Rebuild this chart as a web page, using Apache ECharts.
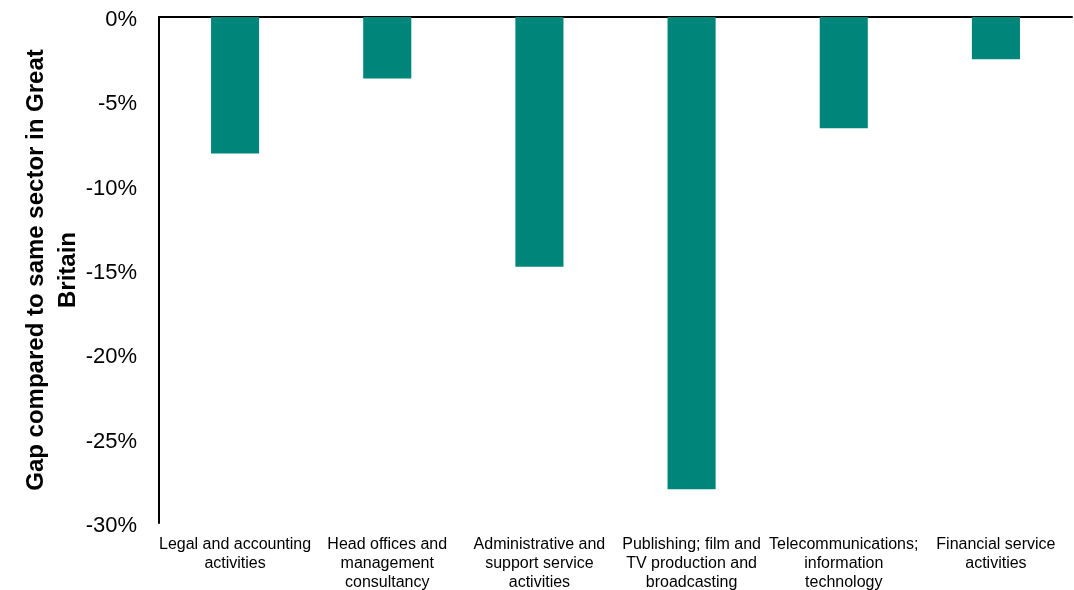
<!DOCTYPE html>
<html>
<head>
<meta charset="utf-8">
<script src="https://cdn.jsdelivr.net/npm/echarts@6/dist/echarts.min.js"></script>
<style>
  html, body { margin: 0; padding: 0; background: #fff; }
  #chart { width: 1074px; height: 590px; }
</style>
</head>
<body>
<div id="chart"></div>
<script>
// sectors along the bottom
const sectors = [
    'Legal and accounting\nactivities',
    'Head offices and\nmanagement\nconsultancy',
    'Administrative and\nsupport service\nactivities',
    'Publishing; film and\nTV production and\nbroadcasting',
    'Telecommunications;\ninformation\ntechnology',
    'Financial service\nactivities'
];
// gap vs same sector in GB, percent
const gapValues = [-8.1, -3.65, -14.8, -28.0, -6.6, -2.5];

const chart = echarts.init(document.getElementById('chart'));

const option = {
    animation: false,
    grid: { left: 159, right: 2, top: 17, bottom: 67, outerBoundsMode: 'none' },
    xAxis: [
        {
            type: 'category',
            data: sectors,
            position: 'bottom',
            axisLine: { show: false, onZero: false },
            axisTick: { show: false },
            axisLabel: {
                interval: 0,
                margin: 12,
                color: '#000',
                fontFamily: 'Liberation Sans, Arial, sans-serif',
                fontSize: 16,
                lineHeight: 19
            }
        },
        {
            // line along 0% at the top
            type: 'category',
            data: sectors,
            position: 'top',
            axisLine: { show: true, lineStyle: { color: '#000', width: 2 } },
            axisTick: { show: false },
            axisLabel: { show: false }
        }
    ],
    yAxis: {
        type: 'value',
        min: -30,
        max: 0,
        interval: 5,
        name: 'Gap compared to same sector in Great\nBritain',
        nameLocation: 'middle',
        nameRotate: 90,
        nameGap: 75,
        nameMoveOverlap: false,
        nameTextStyle: {
            color: '#000',
            fontFamily: 'Liberation Sans, Arial, sans-serif',
            fontSize: 24,
            fontWeight: 'bold',
            lineHeight: 32
        },
        axisLine: { show: true, lineStyle: { color: '#000', width: 2 } },
        axisTick: { show: false },
        splitLine: { show: false },
        axisLabel: {
            margin: 22,
            color: '#000',
            fontFamily: 'Liberation Sans, Arial, sans-serif',
            fontSize: 22,
            formatter: (v) => '{a|' + v + '%}',
            rich: {
                a: {
                    color: '#000',
                    fontFamily: 'Liberation Sans, Arial, sans-serif',
                    fontSize: 22,
                    padding: [6, 0, 0, 0]
                }
            }
        }
    },
    series: [
        {
            type: 'bar',
            data: gapValues,
            barWidth: '31.6%',
            itemStyle: { color: '#00857B' }
        }
    ]
};

chart.setOption(option);
</script>
</body>
</html>
